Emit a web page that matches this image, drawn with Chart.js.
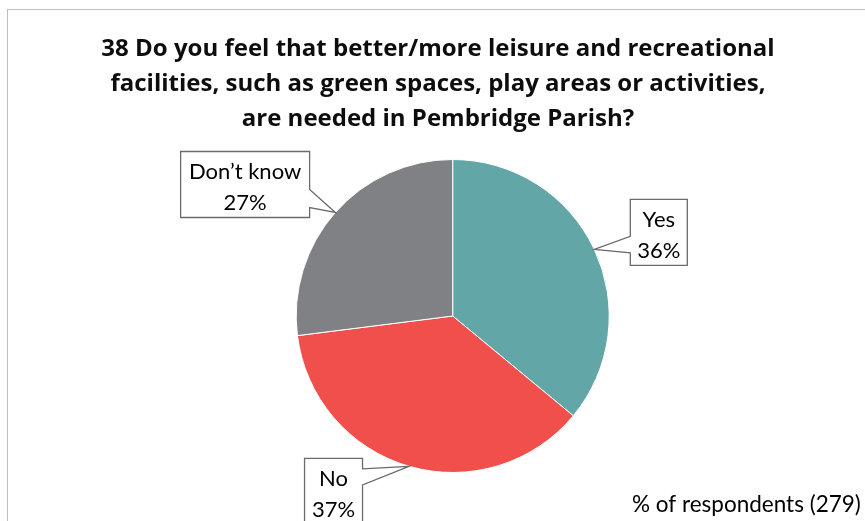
<!DOCTYPE html>
<html><head><meta charset="utf-8">
<script src="https://cdn.jsdelivr.net/npm/chart.js@4.4.1/dist/chart.umd.min.js"></script>
<style>html,body{margin:0;padding:0;background:#fff}#wrap{width:865px;height:521px;position:relative}</style>
</head><body><div id="wrap"><canvas id="c" width="865" height="521"></canvas></div>
<script>
const categories = ['Yes', 'No', 'Don\u2019t know'];
const percentages = [36, 37, 27];
const titleLines = [
  '38 Do you feel that better/more leisure and recreational',
  'facilities, such as green spaces, play areas or activities,',
  'are needed in Pembridge Parish?'
];
const footnote = '% of respondents (279)';
const sliceColors = ['#63A6A8', '#F04F4C', '#808184'];

// callout box placement, relative to the slice's outer mid-point
const calloutLayout = [
  {dx: 36, dy: -50, w: 57, h: 66, side: 'left', b0: 37, b1: 53.5},
  {dx: -46.5, dy: -8, w: 58, h: 66, side: 'right', b0: 10.6, b1: 26.6},
  {dx: -25.7, dy: -61, w: 129, h: 66, side: 'right', b0: 38, b1: 56}
];

const decor = {
  id: 'decor',
  beforeDraw(chart) {
    const ctx = chart.ctx;
    ctx.save();
    ctx.fillStyle = '#fff';
    ctx.fillRect(0, 0, chart.width, chart.height);
    ctx.strokeStyle = '#bdbdbd';
    ctx.lineWidth = 1;
    ctx.strokeRect(7.5, 9.5, chart.width + 20, chart.height + 20);
    ctx.restore();
  },
  afterDatasetsDraw(chart) {
    const ctx = chart.ctx;
    const meta = chart.getDatasetMeta(0);
    ctx.save();
    meta.data.forEach((arc, i) => {
      const p = arc.getProps(['x', 'y', 'startAngle', 'endAngle', 'outerRadius'], true);
      const mid = (p.startAngle + p.endAngle) / 2;
      const tx = p.x + Math.cos(mid) * p.outerRadius;
      const ty = p.y + Math.sin(mid) * p.outerRadius;
      const L = calloutLayout[i];
      const left = L.side === 'left' ? tx + L.dx : tx + L.dx - L.w;
      const top = ty + L.dy;
      const right = left + L.w, bottom = top + L.h;
      ctx.beginPath();
      ctx.moveTo(left, top);
      ctx.lineTo(right, top);
      if (L.side === 'right') {
        ctx.lineTo(right, top + L.b0);
        ctx.lineTo(tx, ty);
        ctx.lineTo(right, top + L.b1);
      }
      ctx.lineTo(right, bottom);
      ctx.lineTo(left, bottom);
      if (L.side === 'left') {
        ctx.lineTo(left, top + L.b1);
        ctx.lineTo(tx, ty);
        ctx.lineTo(left, top + L.b0);
      }
      ctx.closePath();
      ctx.fillStyle = '#fff';
      ctx.fill();
      ctx.strokeStyle = '#6b6b6b';
      ctx.lineWidth = 1.3;
      ctx.stroke();
      ctx.fillStyle = '#000';
      ctx.font = '22px Lato';
      ctx.textAlign = 'center';
      ctx.textBaseline = 'alphabetic';
      const cx = left + L.w / 2;
      ctx.fillText(categories[i], cx, top + 27.5);
      ctx.fillText(percentages[i] + '%', cx, top + 58.5);
    });
    ctx.restore();
  },
  afterDraw(chart) {
    const ctx = chart.ctx;
    ctx.save();
    ctx.fillStyle = '#0d0d0d';
    ctx.font = 'bold 24px "Open Sans"';
    ctx.textAlign = 'center';
    ctx.textBaseline = 'alphabetic';
    titleLines.forEach((t, k) => ctx.fillText(t, 438, 56 + k * 34.8));
    ctx.font = '22.5px Lato';
    ctx.textAlign = 'left';
    ctx.fillStyle = '#000';
    ctx.fillText(footnote, 632, 512);
    ctx.restore();
  }
};

new Chart(document.getElementById('c'), {
  type: 'pie',
  data: {
    labels: categories,
    datasets: [{
      data: percentages,
      backgroundColor: sliceColors,
      borderColor: '#ffffff',
      borderWidth: 1
    }]
  },
  options: {
    responsive: false,
    animation: false,
    layout: {padding: {top: 159, bottom: 48, left: 140, right: 99.6}},
    plugins: {legend: {display: false}, tooltip: {enabled: false}, title: {display: false}}
  },
  plugins: [decor]
});
</script></body></html>
